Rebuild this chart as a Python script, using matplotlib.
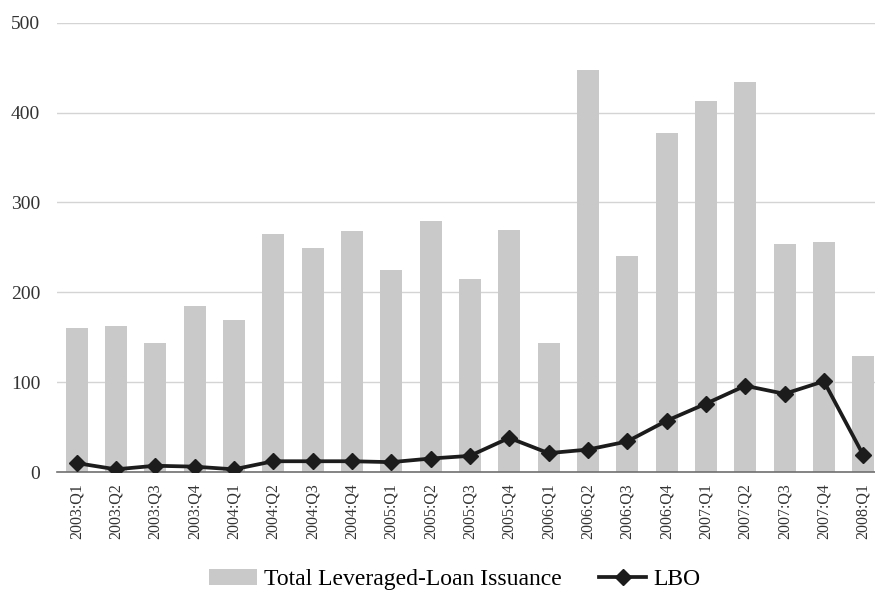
import matplotlib.pyplot as plt
import numpy as np

# quarterly leveraged-loan issuance vs. LBO volume
quarters = ["2003:Q1", "2003:Q2", "2003:Q3", "2003:Q4",
            "2004:Q1", "2004:Q2", "2004:Q3", "2004:Q4",
            "2005:Q1", "2005:Q2", "2005:Q3", "2005:Q4",
            "2006:Q1", "2006:Q2", "2006:Q3", "2006:Q4",
            "2007:Q1", "2007:Q2", "2007:Q3", "2007:Q4",
            "2008:Q1"]
total_issuance = [160, 163, 144, 185, 169, 265, 249, 268, 225, 279, 215,
                  269, 144, 447, 240, 377, 413, 434, 254, 256, 129]
lbo = [10, 3, 7, 6, 3, 12, 12, 12, 11, 15, 18, 38, 21, 25, 34, 57, 76,
       96, 87, 101, 19]
y_ticks = [0, 100, 200, 300, 400, 500]

plt.rcParams["font.family"] = ["Liberation Serif", "DejaVu Serif"]

fig = plt.figure(figsize=(8.75, 5.96), dpi=100)
ax = fig.add_axes([0.065, 0.208, 0.935, 0.754])

x = np.arange(len(quarters))
bars = ax.bar(x, total_issuance, width=0.56, color="#c9c9c9", zorder=2,
              label="Total Leveraged-Loan Issuance")
line, = ax.plot(x, lbo, color="#1c1c1c", lw=2.7, marker="D", ms=8.5,
                zorder=3, label="LBO")

ax.set_xlim(-0.5, 20.3)
ax.set_ylim(0, 500)
ax.set_yticks(y_ticks)
ax.set_xticks(x)
ax.set_xticklabels(quarters, rotation=90, fontsize=11.5, color="#333333")
ax.tick_params(axis="y", length=0, pad=12, labelsize=14, labelcolor="#333333")
ax.tick_params(axis="x", length=0, pad=8)

ax.grid(axis="y", color="#d4d4d4", lw=1.0, zorder=0)
for side in ("top", "right", "left"):
    ax.spines[side].set_visible(False)
ax.spines["bottom"].set_color("#707070")
ax.spines["bottom"].set_linewidth(1.2)
ax.spines["bottom"].set_zorder(2.5)

fig.legend(handles=[bars, line], loc="center", bbox_to_anchor=(0.52, 0.028),
           ncol=2, frameon=False, fontsize=17, handlelength=2.0,
           handletextpad=0.3, columnspacing=1.6)

fig.savefig("out.png", dpi=100)
